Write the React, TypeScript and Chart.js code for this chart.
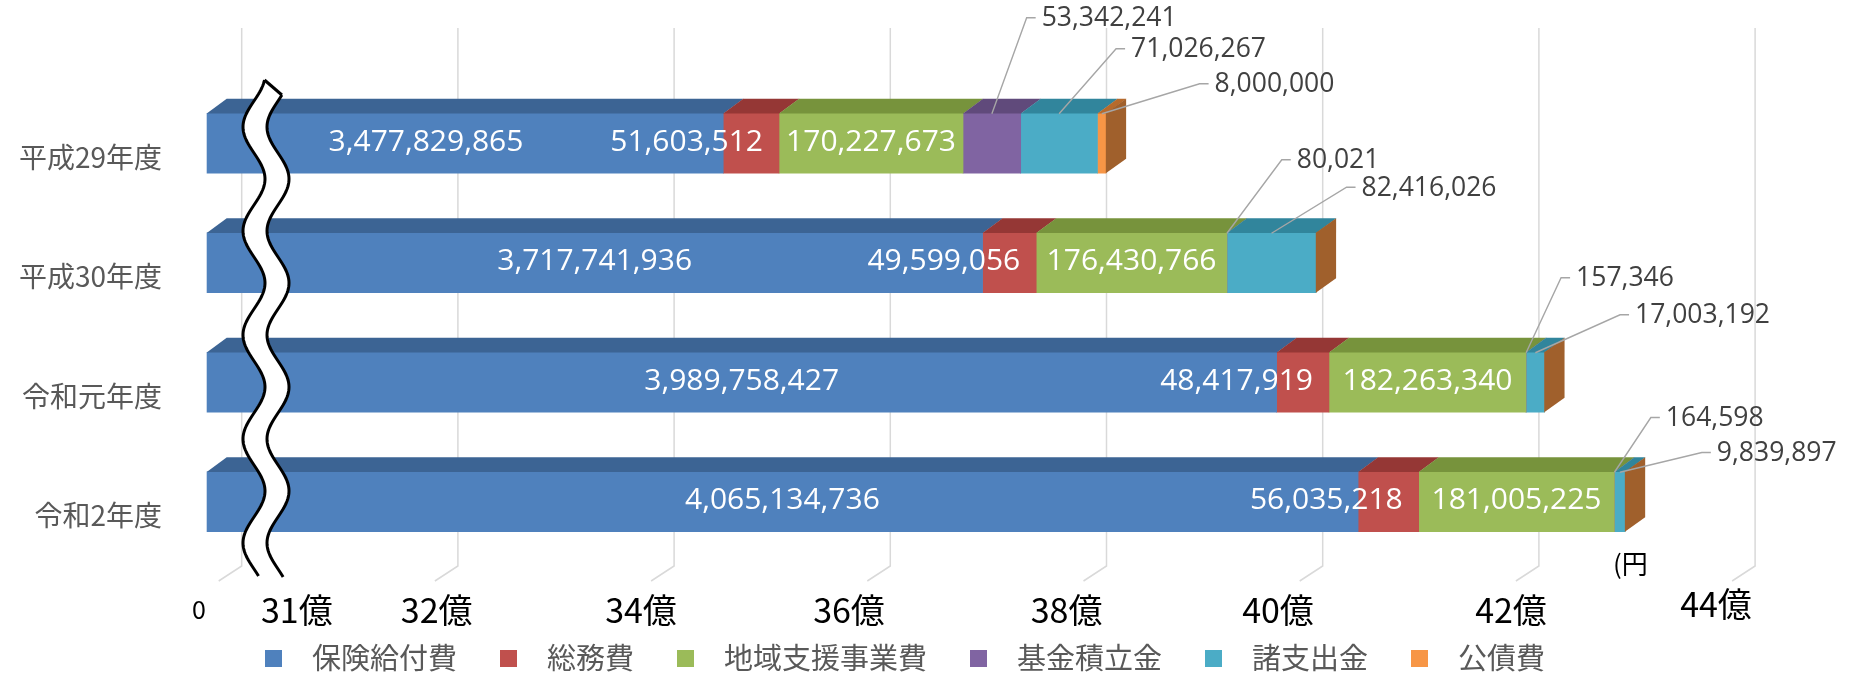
import React, { useEffect, useRef } from 'react';
import { Chart, registerables } from 'chart.js';

Chart.register(...registerables);

// ---------------- data ----------------
const categories = ['平成29年度', '平成30年度', '令和元年度', '令和2年度'];
const seriesNames = ['保険給付費', '総務費', '地域支援事業費', '基金積立金', '諸支出金', '公債費'];
const hokenKyufuhi = [3477829865, 3717741936, 3989758427, 4065134736];
const somuhi = [51603512, 49599056, 48417919, 56035218];
const chiikiShienJigyohi = [170227673, 176430766, 182263340, 181005225];
const kikinTsumitatekin = [53342241, 80021, 157346, 164598];
const shoShishutsukin = [71026267, 82416026, 17003192, 9839897];
const kosaihi = [8000000, 0, 0, 0];

const xTickValues = [3.0e9, 3.1e9, 3.2e9, 3.4e9, 3.6e9, 3.8e9, 4.0e9, 4.2e9, 4.4e9];
const xTickLabels = ['0', '31億', '32億', '34億', '36億', '38億', '40億', '42億', '44億'];
const gridValues = [3.0e9, 3.2e9, 3.4e9, 3.6e9, 3.8e9, 4.0e9, 4.2e9, 4.4e9];
const axisMin = 3.0e9;
const axisMax = 4.5e9;
const unitLabel = '(円';

const seriesValues = [hokenKyufuhi, somuhi, chiikiShienJigyohi, kikinTsumitatekin, shoShishutsukin, kosaihi];

// ---------------- style ----------------
const frontColors = ['#4f81bd', '#c0504d', '#9bbb59', '#8064a2', '#4bacc6', '#f79646'];
const topColors = ['#3c6494', '#953735', '#77933c', '#604a7b', '#31859c', '#b66a2c'];
const sideColor = '#a0602c';
const DEPTH_X = 20;
const DEPTH_Y = 14.5;
const WALL_DX = 35;
const CJK = '"Noto Sans CJK JP", "Noto Sans", sans-serif';
const NUM = '"Open Sans", "Noto Sans", sans-serif';

// x tick label nudges in px [dx, dy]
const xLabelNudge: [number, number][] = [
  [-7.7, -1], [-18, 0], [13.8, 0], [1.9, 0], [-6.3, 0], [-4.9, 0], [-9.7, 0], [7.1, 0], [-4.1, -6],
];
// label mode per series: 'center' | 'right' | 'callout'
const labelMode = ['center', 'right', 'center', 'callout', 'callout', 'callout'];
const insideShift: Record<string, number> = { '0-0': -39 };
// callout text position (left / middle) relative to anchor (segment centre, front top)
const calloutOffset: Record<string, [number, number]> = {
  '3-0': [49.8, -95], '4-0': [72, -64], '5-0': [112.8, -29],
  '3-1': [69.8, -72.5], '4-1': [90, -45],
  '3-2': [50, -74], '4-2': [99.7, -37],
  '3-3': [51.4, -53.7], '4-3': [97, -18.7],
};

const fmt = (v: number) => v.toLocaleString('en-US');

const decoPlugin = {
  id: 'deco3d',
  beforeDatasetsDraw(chart: any) {
    const { ctx, chartArea } = chart;
    const xs = chart.scales.x;
    const wallTop = chartArea.top - 55.5;
    const floorY = chartArea.bottom + 4.5;
    ctx.save();
    ctx.strokeStyle = '#d9d9d9';
    ctx.lineWidth = 1.5;
    for (const v of gridValues) {
      const xb = xs.getPixelForValue(v) + WALL_DX;
      ctx.beginPath();
      ctx.moveTo(xb, wallTop);
      ctx.lineTo(xb, floorY);
      ctx.lineTo(xb - 23, floorY + 15);
      ctx.stroke();
    }
    ctx.restore();
  },
  afterDatasetsDraw(chart: any) {
    const { ctx, chartArea } = chart;
    const xs = chart.scales.x;
    const nDs = chart.data.datasets.length;
    const nCat = chart.data.labels.length;
    ctx.save();
    // 3D top and side faces
    for (let r = 0; r < nCat; r++) {
      let endX = chartArea.left;
      let yTop = 0, yBot = 0;
      for (let d = 0; d < nDs; d++) {
        const el = chart.getDatasetMeta(d).data[r];
        const x1 = Math.max(Math.min(el.base, el.x), chartArea.left);
        const x2 = Math.max(el.base, el.x);
        yTop = el.y - el.height / 2;
        yBot = el.y + el.height / 2;
        endX = Math.max(endX, x2);
        if (x2 - x1 < 0.05) continue;
        ctx.fillStyle = topColors[d];
        ctx.beginPath();
        ctx.moveTo(x1, yTop + 0.3);
        ctx.lineTo(x2 + 0.3, yTop + 0.3);
        ctx.lineTo(x2 + DEPTH_X + 0.3, yTop - DEPTH_Y);
        ctx.lineTo(x1 + DEPTH_X, yTop - DEPTH_Y);
        ctx.closePath();
        ctx.fill();
      }
      ctx.fillStyle = sideColor;
      ctx.beginPath();
      ctx.moveTo(endX - 0.3, yTop);
      ctx.lineTo(endX + DEPTH_X, yTop - DEPTH_Y);
      ctx.lineTo(endX + DEPTH_X, yBot - DEPTH_Y);
      ctx.lineTo(endX - 0.3, yBot);
      ctx.closePath();
      ctx.fill();
    }

    // data labels
    ctx.textBaseline = 'middle';
    for (let d = 0; d < nDs; d++) {
      const meta = chart.getDatasetMeta(d);
      for (let r = 0; r < nCat; r++) {
        const v = seriesValues[d][r];
        if (!v) continue;
        const el = meta.data[r];
        const x1 = Math.max(Math.min(el.base, el.x), chartArea.left);
        const x2 = Math.max(el.base, el.x);
        const key = d + '-' + r;
        const mode = labelMode[d];
        if (mode === 'center') {
          ctx.font = '30px ' + NUM;
          ctx.fillStyle = '#ffffff';
          ctx.textAlign = 'center';
          ctx.fillText(fmt(v), (x1 + x2) / 2 + (insideShift[key] || 0), el.y - 1);
        } else if (mode === 'right') {
          ctx.font = '30px ' + NUM;
          ctx.fillStyle = '#ffffff';
          ctx.textAlign = 'right';
          ctx.fillText(fmt(v), x2 - 16, el.y - 1);
        } else {
          const off = calloutOffset[key];
          if (!off) continue;
          const ax = (x1 + x2) / 2;
          const ay = el.y - el.height / 2 + 0.5;
          const tx = ax + off[0];
          const ty = ay + off[1];
          ctx.strokeStyle = '#a6a6a6';
          ctx.lineWidth = 1.4;
          ctx.beginPath();
          ctx.moveTo(ax, ay);
          ctx.lineTo(tx - 15, ty - 1);
          ctx.lineTo(tx - 6, ty - 1);
          ctx.stroke();
          ctx.font = '26.5px ' + NUM;
          ctx.fillStyle = '#404040';
          ctx.textAlign = 'left';
          ctx.fillText(fmt(v), tx, ty);
        }
      }
    }

    // axis break wave
    const cx = chartArea.left + 47.3;
    const y0 = chartArea.top - 3.5;
    const y1 = chartArea.bottom + 15.5;
    const yMin = chartArea.top + 43.5;
    const A = 11;
    const P = 104;
    const band = 24;
    const wx = (y: number) => cx - A * Math.cos((2 * Math.PI * (y - yMin)) / P);
    const left: [number, number][] = [];
    const right: [number, number][] = [];
    for (let y = y0; y <= y1 + 0.01; y += 2) left.push([wx(y), y]);
    for (let y = y0 + 15; y <= y1 + 0.01; y += 2) right.push([wx(y) + band, y]);
    ctx.beginPath();
    left.forEach(([x, y], i) => (i ? ctx.lineTo(x, y) : ctx.moveTo(x, y)));
    for (let i = right.length - 1; i >= 0; i--) ctx.lineTo(right[i][0], right[i][1]);
    ctx.closePath();
    ctx.fillStyle = '#ffffff';
    ctx.fill();
    ctx.strokeStyle = '#000000';
    ctx.lineWidth = 3;
    ctx.lineJoin = 'round';
    ctx.lineCap = 'butt';
    ctx.beginPath();
    left.forEach(([x, y], i) => (i ? ctx.lineTo(x, y) : ctx.moveTo(x, y)));
    ctx.stroke();
    ctx.beginPath();
    right.forEach(([x, y], i) => (i ? ctx.lineTo(x, y) : ctx.moveTo(x, y)));
    ctx.stroke();
    ctx.beginPath();
    ctx.moveTo(left[0][0], left[0][1]);
    ctx.lineTo(right[0][0], right[0][1]);
    ctx.stroke();

    // x axis labels
    ctx.fillStyle = '#000000';
    ctx.textAlign = 'center';
    ctx.textBaseline = 'middle';
    const ly = chartArea.bottom + 48.5;
    xTickValues.forEach((v, i) => {
      ctx.font = (i === 0 ? '25px ' : '34px ') + CJK;
      const [dx, dy] = xLabelNudge[i];
      ctx.fillText(xTickLabels[i], xs.getPixelForValue(v) + dx, ly + dy);
    });

    // unit
    ctx.font = '26px ' + CJK;
    ctx.textAlign = 'left';
    ctx.fillText(unitLabel, chartArea.right - 215.2, chartArea.bottom + 2.5);

    // legend
    ctx.font = '29px ' + CJK;
    let lx = chartArea.left + 58.3;
    const legY = chartArea.bottom + 97;
    seriesNames.forEach((name, i) => {
      ctx.fillStyle = frontColors[i];
      ctx.fillRect(lx, legY - 8.5, 17, 17);
      lx += 17 + 30;
      ctx.fillStyle = '#595959';
      ctx.textAlign = 'left';
      ctx.fillText(name, lx, legY - 0.5);
      lx += ctx.measureText(name).width + 43;
    });
    ctx.restore();
  },
};

export default function App() {
  const ref = useRef<HTMLCanvasElement>(null);
  useEffect(() => {
    const canvas = ref.current;
    if (!canvas) return;
    const datasets = seriesValues.map((vals, i) => ({
      label: seriesNames[i],
      data: vals,
      backgroundColor: frontColors[i],
      borderWidth: 0,
      barThickness: 60,
      clip: { left: 0, top: false, right: false, bottom: false } as any,
    }));
    const chart = new Chart(canvas, {
      type: 'bar',
      data: { labels: categories, datasets },
      options: {
        indexAxis: 'y',
        responsive: false,
        animation: false,
        events: [],
        layout: { padding: { top: 83.5, bottom: 111.5, left: 0, right: 21.8 } },
        plugins: { legend: { display: false }, tooltip: { enabled: false } },
        scales: {
          x: { type: 'linear', stacked: true, min: axisMin, max: axisMax, display: false },
          y: {
            stacked: true,
            grid: { display: false, drawTicks: false },
            border: { display: false },
            ticks: {
              font: { family: CJK, size: 28 },
              color: '#595959',
              padding: 44.7,
              labelOffset: 13.7,
            },
            afterFit: (s: any) => {
              s.width = 206.7;
            },
          },
        },
      } as any,
      plugins: [decoPlugin],
    });
    return () => chart.destroy();
  }, []);
  return (
    <div style={{ position: 'absolute', left: 0, top: 0, width: 1850, height: 673, background: '#ffffff' }}>
      <canvas ref={ref} width={1850} height={673} style={{ display: 'block', width: 1850, height: 673 }} />
    </div>
  );
}
